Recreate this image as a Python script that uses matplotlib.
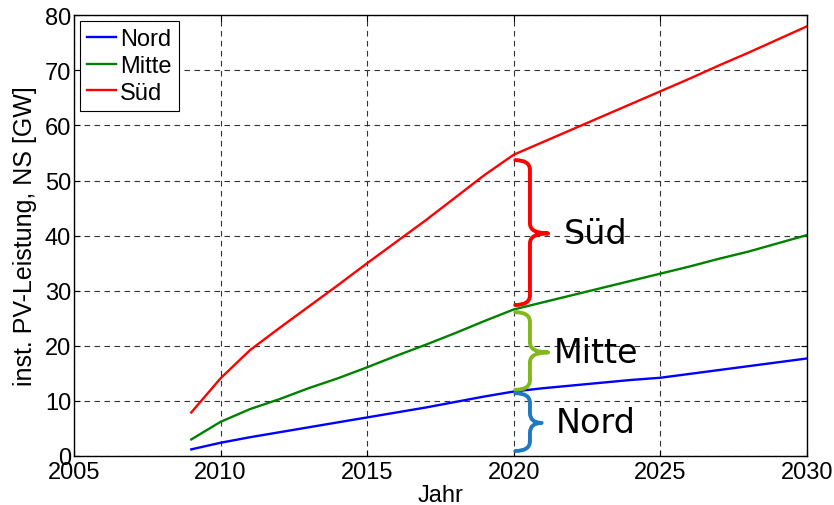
import matplotlib.pyplot as plt
from matplotlib.path import Path
from matplotlib.patches import PathPatch

plt.rcParams['font.family'] = ['Liberation Sans', 'DejaVu Sans']

# installed PV capacity per region, low-voltage level [GW]
jahre = list(range(2009, 2031))
nord = [1.2, 2.4, 3.4, 4.3, 5.2, 6.1, 7.0, 7.9, 8.8, 9.8, 10.8, 11.7,
        12.3, 12.8, 13.3, 13.8, 14.2, 14.9, 15.6, 16.3, 17.0, 17.7]
mitte = [3.0, 6.2, 8.5, 10.3, 12.3, 14.1, 16.1, 18.2, 20.2, 22.3, 24.5, 26.6,
         27.9, 29.2, 30.5, 31.8, 33.1, 34.4, 35.8, 37.1, 38.6, 40.1]
sued = [7.9, 14.1, 19.2, 23.2, 27.1, 31.0, 35.0, 38.9, 42.8, 46.9, 51.0, 54.7,
        57.0, 59.3, 61.6, 63.9, 66.2, 68.5, 70.9, 73.2, 75.6, 78.0]

# bracket ranges at 2020: (label, colour, bottom, middle, top, tip width)
klammern = [
    ('Süd', '#ff0000', 27.4, 40.4, 53.7, 0.62),
    ('Mitte', '#82b81a', 12.0, 18.8, 26.1, 0.62),
    ('Nord', '#1f78c0', 0.9, 6.0, 11.4, 0.40),
]

fig = plt.figure(figsize=(8.34, 5.06), dpi=100)
ax = fig.add_axes([0.0887, 0.0969, 0.879, 0.871])

ax.plot(jahre, nord, 'b-', linewidth=1.7, label='Nord')
ax.plot(jahre, mitte, '-', color='#008000', linewidth=1.7, label='Mitte')
ax.plot(jahre, sued, 'r-', linewidth=1.7, label='Süd')


def klammer(ax, yb, ym, yt, farbe, breite, x0=2020.05, xv=2020.55):
    ry = 1.8
    xt = xv + breite
    pts = [(x0, yb), (xv, yb), (xv, yb + ry),
           (xv, ym - ry), (xv, ym), (xt, ym),
           (xv, ym), (xv, ym + ry),
           (xv, yt - ry), (xv, yt), (x0, yt)]
    codes = [Path.MOVETO, Path.CURVE3, Path.CURVE3,
             Path.LINETO, Path.CURVE3, Path.CURVE3,
             Path.CURVE3, Path.CURVE3,
             Path.LINETO, Path.CURVE3, Path.CURVE3]
    ax.add_patch(PathPatch(Path(pts, codes), fill=False, edgecolor=farbe,
                           linewidth=2.8, capstyle='round', joinstyle='round',
                           zorder=4))


for name, farbe, yb, ym, yt, breite in klammern:
    klammer(ax, yb, ym, yt, farbe, breite)
    ax.text(2022.8, ym, name, fontsize=24, family='DejaVu Sans',
            ha='center', va='center', zorder=5)

ax.set_xlim(2005, 2030)
ax.set_ylim(0, 80)
ax.set_xticks(range(2005, 2031, 5))
ax.set_yticks(range(0, 81, 10))
ax.grid(True, linestyle=(0, (5, 4)), color='#333333', linewidth=0.8)
ax.tick_params(direction='in', top=True, right=True, labelsize=17, length=4)
ax.tick_params(axis='y', pad=2)
for s in ax.spines.values():
    s.set_linewidth(1.0)

ax.set_xlabel('Jahr', fontsize=17, labelpad=1)
ax.set_ylabel('inst. PV-Leistung, NS [GW]', fontsize=18)
ax.yaxis.set_label_coords(-0.051, 0.5)

leg = ax.legend(loc='upper left', fontsize=17, handlelength=1.25,
                handletextpad=0.15, borderpad=0.3, labelspacing=0.2,
                borderaxespad=0.25, fancybox=False, framealpha=1)
leg.get_frame().set_edgecolor('black')
leg.get_frame().set_linewidth(0.8)

fig.savefig('out.png', dpi=100)
